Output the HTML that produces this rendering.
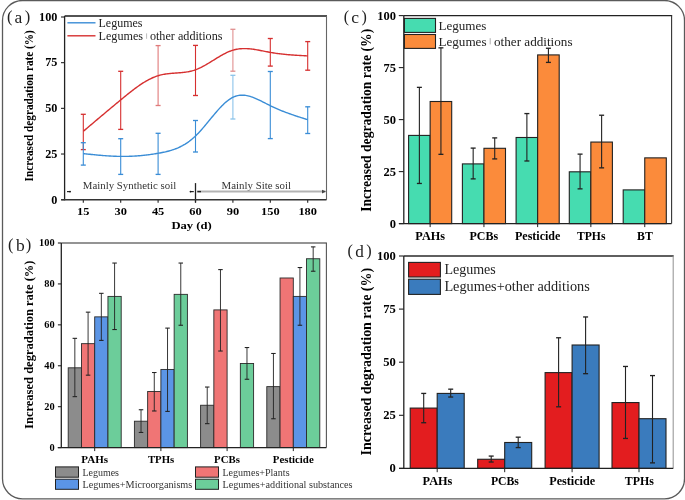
<!DOCTYPE html>
<html><head><meta charset="utf-8"><style>
html,body{margin:0;padding:0;background:#fff;}
svg{display:block;filter:blur(0.3px);}
text{font-family:"Liberation Serif",serif;}
</style></head><body>
<svg width="685" height="500" viewBox="0 0 685 500">
<rect width="685" height="500" fill="#fff"/>
<rect x="2.5" y="0.5" width="682" height="498.3" rx="20" ry="20" fill="none" stroke="#5a5a5a" stroke-width="1.3"/>
<text x="7.07" y="21.9" font-size="16.5" fill="#222">(</text>
<text x="24.63" y="21.9" font-size="16.5" fill="#222">)</text>
<text x="14.38" y="23" font-size="17.5" fill="#222">a</text>
<line x1="61" y1="199.7" x2="64.6" y2="199.7" stroke="#222" stroke-width="1.1"/>
<text x="57.4" y="203.5" font-size="12.2" font-weight="bold" text-anchor="end" textLength="6.1" lengthAdjust="spacingAndGlyphs">0</text>
<line x1="61" y1="154.02" x2="64.6" y2="154.02" stroke="#222" stroke-width="1.1"/>
<text x="57.4" y="157.82" font-size="12.2" font-weight="bold" text-anchor="end" textLength="12.2" lengthAdjust="spacingAndGlyphs">25</text>
<line x1="61" y1="108.35" x2="64.6" y2="108.35" stroke="#222" stroke-width="1.1"/>
<text x="57.4" y="112.15" font-size="12.2" font-weight="bold" text-anchor="end" textLength="12.2" lengthAdjust="spacingAndGlyphs">50</text>
<line x1="61" y1="62.67" x2="64.6" y2="62.67" stroke="#222" stroke-width="1.1"/>
<text x="57.4" y="66.47" font-size="12.2" font-weight="bold" text-anchor="end" textLength="12.2" lengthAdjust="spacingAndGlyphs">75</text>
<line x1="61" y1="17" x2="64.6" y2="17" stroke="#222" stroke-width="1.1"/>
<text x="57.4" y="20.8" font-size="12.2" font-weight="bold" text-anchor="end" textLength="18.3" lengthAdjust="spacingAndGlyphs">100</text>
<line x1="83.3" y1="199.7" x2="83.3" y2="202.7" stroke="#222" stroke-width="1.1"/>
<text x="83.3" y="214.7" font-size="11.4" font-weight="bold" text-anchor="middle" textLength="12.4" lengthAdjust="spacingAndGlyphs">15</text>
<line x1="120.7" y1="199.7" x2="120.7" y2="202.7" stroke="#222" stroke-width="1.1"/>
<text x="120.7" y="214.7" font-size="11.4" font-weight="bold" text-anchor="middle" textLength="12.4" lengthAdjust="spacingAndGlyphs">30</text>
<line x1="158.1" y1="199.7" x2="158.1" y2="202.7" stroke="#222" stroke-width="1.1"/>
<text x="158.1" y="214.7" font-size="11.4" font-weight="bold" text-anchor="middle" textLength="12.4" lengthAdjust="spacingAndGlyphs">45</text>
<line x1="195.5" y1="199.7" x2="195.5" y2="202.7" stroke="#222" stroke-width="1.1"/>
<text x="195.5" y="214.7" font-size="11.4" font-weight="bold" text-anchor="middle" textLength="12.4" lengthAdjust="spacingAndGlyphs">60</text>
<line x1="232.9" y1="199.7" x2="232.9" y2="202.7" stroke="#222" stroke-width="1.1"/>
<text x="232.9" y="214.7" font-size="11.4" font-weight="bold" text-anchor="middle" textLength="12.4" lengthAdjust="spacingAndGlyphs">90</text>
<line x1="270.3" y1="199.7" x2="270.3" y2="202.7" stroke="#222" stroke-width="1.1"/>
<text x="270.3" y="214.7" font-size="11.4" font-weight="bold" text-anchor="middle" textLength="18.6" lengthAdjust="spacingAndGlyphs">150</text>
<line x1="307.7" y1="199.7" x2="307.7" y2="202.7" stroke="#222" stroke-width="1.1"/>
<text x="307.7" y="214.7" font-size="11.4" font-weight="bold" text-anchor="middle" textLength="18.6" lengthAdjust="spacingAndGlyphs">180</text>
<text x="191.6" y="229.3" font-size="11.2" font-weight="bold" text-anchor="middle" textLength="40.4" lengthAdjust="spacingAndGlyphs">Day (d)</text>
<text x="0" y="0" font-size="12.4" font-weight="bold" text-anchor="middle" textLength="151.2" lengthAdjust="spacingAndGlyphs" transform="translate(32.8 105.8) rotate(-90)">Increased degradation rate (%)</text>
<text x="82.8" y="188.7" font-size="9.6" textLength="93.4" lengthAdjust="spacingAndGlyphs" fill="#333">Mainly Synthetic soil</text>
<text x="221.6" y="189" font-size="9.6" textLength="69.4" lengthAdjust="spacingAndGlyphs" fill="#333">Mainly Site soil</text>
<line x1="197" y1="191.5" x2="325.5" y2="191.5" stroke="#b3b3b3" stroke-width="1.8"/>
<line x1="67" y1="191.6" x2="70.5" y2="191.6" stroke="#222" stroke-width="1.2"/>
<circle cx="70" cy="191.6" r="0.9" fill="#111"/>
<line x1="190" y1="191.6" x2="193.8" y2="191.6" stroke="#222" stroke-width="1.2"/>
<circle cx="190.5" cy="191.6" r="0.9" fill="#111"/>
<line x1="197.4" y1="191.6" x2="201" y2="191.6" stroke="#222" stroke-width="1.4"/>
<line x1="195.5" y1="183.1" x2="195.5" y2="202.6" stroke="#222" stroke-width="1.3"/>
<polygon points="322,189.8 326,191.6 322,193.4" fill="#444"/>
<line x1="83.3" y1="114.3" x2="83.3" y2="149.6" stroke="#d63030" stroke-width="1.1"/>
<line x1="80.8" y1="114.3" x2="85.8" y2="114.3" stroke="#d63030" stroke-width="1.32"/>
<line x1="80.8" y1="149.6" x2="85.8" y2="149.6" stroke="#d63030" stroke-width="1.32"/>
<line x1="120.7" y1="71.3" x2="120.7" y2="129.4" stroke="#d63030" stroke-width="1.1"/>
<line x1="118.2" y1="71.3" x2="123.2" y2="71.3" stroke="#d63030" stroke-width="1.32"/>
<line x1="118.2" y1="129.4" x2="123.2" y2="129.4" stroke="#d63030" stroke-width="1.32"/>
<line x1="158.1" y1="45.6" x2="158.1" y2="105.5" stroke="#e07a7a" stroke-width="1.1"/>
<line x1="155.6" y1="45.6" x2="160.6" y2="45.6" stroke="#e07a7a" stroke-width="1.32"/>
<line x1="155.6" y1="105.5" x2="160.6" y2="105.5" stroke="#e07a7a" stroke-width="1.32"/>
<line x1="195.5" y1="45.4" x2="195.5" y2="95.5" stroke="#d63030" stroke-width="1.1"/>
<line x1="193" y1="45.4" x2="198" y2="45.4" stroke="#d63030" stroke-width="1.32"/>
<line x1="193" y1="95.5" x2="198" y2="95.5" stroke="#d63030" stroke-width="1.32"/>
<line x1="232.9" y1="29.3" x2="232.9" y2="71.2" stroke="#e09090" stroke-width="1.1"/>
<line x1="230.4" y1="29.3" x2="235.4" y2="29.3" stroke="#e09090" stroke-width="1.32"/>
<line x1="230.4" y1="71.2" x2="235.4" y2="71.2" stroke="#e09090" stroke-width="1.32"/>
<line x1="270.3" y1="38.5" x2="270.3" y2="66.1" stroke="#d63030" stroke-width="1.1"/>
<line x1="267.8" y1="38.5" x2="272.8" y2="38.5" stroke="#d63030" stroke-width="1.32"/>
<line x1="267.8" y1="66.1" x2="272.8" y2="66.1" stroke="#d63030" stroke-width="1.32"/>
<line x1="307.7" y1="41.6" x2="307.7" y2="70.2" stroke="#d63030" stroke-width="1.1"/>
<line x1="305.2" y1="41.6" x2="310.2" y2="41.6" stroke="#d63030" stroke-width="1.32"/>
<line x1="305.2" y1="70.2" x2="310.2" y2="70.2" stroke="#d63030" stroke-width="1.32"/>
<line x1="83.3" y1="142.7" x2="83.3" y2="165.1" stroke="#3a8dd6" stroke-width="1.1"/>
<line x1="80.8" y1="142.7" x2="85.8" y2="142.7" stroke="#3a8dd6" stroke-width="1.32"/>
<line x1="80.8" y1="165.1" x2="85.8" y2="165.1" stroke="#3a8dd6" stroke-width="1.32"/>
<line x1="120.7" y1="138.7" x2="120.7" y2="174.4" stroke="#3a8dd6" stroke-width="1.1"/>
<line x1="118.2" y1="138.7" x2="123.2" y2="138.7" stroke="#3a8dd6" stroke-width="1.32"/>
<line x1="118.2" y1="174.4" x2="123.2" y2="174.4" stroke="#3a8dd6" stroke-width="1.32"/>
<line x1="158.1" y1="133.3" x2="158.1" y2="174.4" stroke="#3a8dd6" stroke-width="1.1"/>
<line x1="155.6" y1="133.3" x2="160.6" y2="133.3" stroke="#3a8dd6" stroke-width="1.32"/>
<line x1="155.6" y1="174.4" x2="160.6" y2="174.4" stroke="#3a8dd6" stroke-width="1.32"/>
<line x1="195.5" y1="120.5" x2="195.5" y2="152" stroke="#3a8dd6" stroke-width="1.1"/>
<line x1="193" y1="120.5" x2="198" y2="120.5" stroke="#3a8dd6" stroke-width="1.32"/>
<line x1="193" y1="152" x2="198" y2="152" stroke="#3a8dd6" stroke-width="1.32"/>
<line x1="232.9" y1="75.3" x2="232.9" y2="119" stroke="#8cc4ea" stroke-width="1.1"/>
<line x1="230.4" y1="75.3" x2="235.4" y2="75.3" stroke="#8cc4ea" stroke-width="1.32"/>
<line x1="230.4" y1="119" x2="235.4" y2="119" stroke="#8cc4ea" stroke-width="1.32"/>
<line x1="270.3" y1="71.5" x2="270.3" y2="138.6" stroke="#3a8dd6" stroke-width="1.1"/>
<line x1="267.8" y1="71.5" x2="272.8" y2="71.5" stroke="#3a8dd6" stroke-width="1.32"/>
<line x1="267.8" y1="138.6" x2="272.8" y2="138.6" stroke="#3a8dd6" stroke-width="1.32"/>
<line x1="307.7" y1="106.8" x2="307.7" y2="133.5" stroke="#3a8dd6" stroke-width="1.1"/>
<line x1="305.2" y1="106.8" x2="310.2" y2="106.8" stroke="#3a8dd6" stroke-width="1.32"/>
<line x1="305.2" y1="133.5" x2="310.2" y2="133.5" stroke="#3a8dd6" stroke-width="1.32"/>
<path d="M83.3 131.3 L84.43 130.35 L85.56 129.39 L86.68 128.44 L87.81 127.48 L88.94 126.53 L90.07 125.58 L91.19 124.62 L92.32 123.67 L93.45 122.72 L94.58 121.77 L95.7 120.81 L96.83 119.86 L97.96 118.91 L99.09 117.96 L100.21 117.01 L101.34 116.06 L102.47 115.11 L103.6 114.17 L104.73 113.22 L105.85 112.27 L106.98 111.33 L108.11 110.38 L109.24 109.44 L110.36 108.5 L111.49 107.55 L112.62 106.61 L113.75 105.67 L114.87 104.73 L116 103.79 L117.13 102.86 L118.26 101.92 L119.38 100.99 L120.51 100.06 L121.64 99.12 L122.77 98.19 L123.89 97.27 L125.02 96.35 L126.15 95.43 L127.28 94.52 L128.41 93.61 L129.53 92.72 L130.66 91.83 L131.79 90.95 L132.92 90.09 L134.04 89.23 L135.17 88.39 L136.3 87.57 L137.43 86.75 L138.55 85.96 L139.68 85.18 L140.81 84.42 L141.94 83.68 L143.06 82.95 L144.19 82.25 L145.32 81.57 L146.45 80.91 L147.58 80.28 L148.7 79.67 L149.83 79.09 L150.96 78.53 L152.09 78.01 L153.21 77.51 L154.34 77.04 L155.47 76.6 L156.6 76.19 L157.72 75.82 L158.85 75.48 L159.98 75.17 L161.11 74.89 L162.23 74.64 L163.36 74.42 L164.49 74.22 L165.62 74.04 L166.75 73.88 L167.87 73.74 L169 73.61 L170.13 73.5 L171.26 73.4 L172.38 73.31 L173.51 73.22 L174.64 73.14 L175.77 73.06 L176.89 72.98 L178.02 72.9 L179.15 72.82 L180.28 72.73 L181.4 72.63 L182.53 72.52 L183.66 72.4 L184.79 72.26 L185.92 72.1 L187.04 71.93 L188.17 71.74 L189.3 71.52 L190.43 71.27 L191.55 71 L192.68 70.7 L193.81 70.37 L194.94 70 L196.06 69.59 L197.19 69.15 L198.32 68.68 L199.45 68.17 L200.57 67.64 L201.7 67.07 L202.83 66.49 L203.96 65.88 L205.08 65.25 L206.21 64.61 L207.34 63.94 L208.47 63.27 L209.6 62.59 L210.72 61.9 L211.85 61.2 L212.98 60.5 L214.11 59.8 L215.23 59.1 L216.36 58.41 L217.49 57.72 L218.62 57.04 L219.74 56.37 L220.87 55.72 L222 55.08 L223.13 54.46 L224.25 53.86 L225.38 53.28 L226.51 52.73 L227.64 52.21 L228.77 51.71 L229.89 51.25 L231.02 50.83 L232.15 50.44 L233.28 50.09 L234.4 49.78 L235.53 49.51 L236.66 49.28 L237.79 49.08 L238.91 48.92 L240.04 48.8 L241.17 48.7 L242.3 48.63 L243.42 48.6 L244.55 48.59 L245.68 48.6 L246.81 48.64 L247.94 48.71 L249.06 48.79 L250.19 48.9 L251.32 49.02 L252.45 49.16 L253.57 49.31 L254.7 49.48 L255.83 49.66 L256.96 49.85 L258.08 50.05 L259.21 50.26 L260.34 50.47 L261.47 50.69 L262.59 50.91 L263.72 51.14 L264.85 51.36 L265.98 51.59 L267.11 51.81 L268.23 52.02 L269.36 52.23 L270.49 52.43 L271.62 52.63 L272.74 52.81 L273.87 52.99 L275 53.16 L276.13 53.32 L277.25 53.48 L278.38 53.63 L279.51 53.77 L280.64 53.91 L281.76 54.04 L282.89 54.16 L284.02 54.28 L285.15 54.39 L286.27 54.5 L287.4 54.6 L288.53 54.7 L289.66 54.79 L290.79 54.88 L291.91 54.97 L293.04 55.05 L294.17 55.13 L295.3 55.2 L296.42 55.27 L297.55 55.34 L298.68 55.41 L299.81 55.48 L300.93 55.54 L302.06 55.6 L303.19 55.66 L304.32 55.72 L305.44 55.78 L306.57 55.84 L307.7 55.9" fill="none" stroke="#d63030" stroke-width="1.4"/>
<path d="M83.3 153.6 L84.43 153.72 L85.56 153.84 L86.68 153.96 L87.81 154.08 L88.94 154.2 L90.07 154.32 L91.19 154.43 L92.32 154.55 L93.45 154.66 L94.58 154.78 L95.7 154.89 L96.83 154.99 L97.96 155.1 L99.09 155.2 L100.21 155.3 L101.34 155.4 L102.47 155.49 L103.6 155.58 L104.73 155.67 L105.85 155.75 L106.98 155.83 L108.11 155.91 L109.24 155.98 L110.36 156.04 L111.49 156.1 L112.62 156.16 L113.75 156.21 L114.87 156.26 L116 156.3 L117.13 156.33 L118.26 156.36 L119.38 156.38 L120.51 156.4 L121.64 156.41 L122.77 156.41 L123.89 156.41 L125.02 156.4 L126.15 156.38 L127.28 156.36 L128.41 156.33 L129.53 156.29 L130.66 156.25 L131.79 156.2 L132.92 156.14 L134.04 156.08 L135.17 156.01 L136.3 155.94 L137.43 155.86 L138.55 155.77 L139.68 155.68 L140.81 155.58 L141.94 155.48 L143.06 155.36 L144.19 155.25 L145.32 155.12 L146.45 154.99 L147.58 154.86 L148.7 154.72 L149.83 154.57 L150.96 154.41 L152.09 154.25 L153.21 154.09 L154.34 153.92 L155.47 153.74 L156.6 153.55 L157.72 153.36 L158.85 153.17 L159.98 152.97 L161.11 152.76 L162.23 152.54 L163.36 152.31 L164.49 152.07 L165.62 151.81 L166.75 151.54 L167.87 151.26 L169 150.96 L170.13 150.64 L171.26 150.3 L172.38 149.94 L173.51 149.56 L174.64 149.16 L175.77 148.73 L176.89 148.28 L178.02 147.8 L179.15 147.29 L180.28 146.75 L181.4 146.19 L182.53 145.59 L183.66 144.95 L184.79 144.29 L185.92 143.58 L187.04 142.85 L188.17 142.07 L189.3 141.25 L190.43 140.39 L191.55 139.49 L192.68 138.55 L193.81 137.57 L194.94 136.53 L196.06 135.45 L197.19 134.33 L198.32 133.16 L199.45 131.96 L200.57 130.72 L201.7 129.45 L202.83 128.16 L203.96 126.84 L205.08 125.5 L206.21 124.15 L207.34 122.79 L208.47 121.42 L209.6 120.04 L210.72 118.67 L211.85 117.3 L212.98 115.94 L214.11 114.59 L215.23 113.25 L216.36 111.94 L217.49 110.64 L218.62 109.38 L219.74 108.14 L220.87 106.94 L222 105.78 L223.13 104.66 L224.25 103.59 L225.38 102.57 L226.51 101.6 L227.64 100.68 L228.77 99.83 L229.89 99.05 L231.02 98.33 L232.15 97.69 L233.28 97.12 L234.4 96.63 L235.53 96.22 L236.66 95.87 L237.79 95.6 L238.91 95.4 L240.04 95.26 L241.17 95.18 L242.3 95.16 L243.42 95.2 L244.55 95.29 L245.68 95.43 L246.81 95.62 L247.94 95.85 L249.06 96.13 L250.19 96.45 L251.32 96.8 L252.45 97.19 L253.57 97.61 L254.7 98.05 L255.83 98.53 L256.96 99.03 L258.08 99.54 L259.21 100.08 L260.34 100.63 L261.47 101.19 L262.59 101.76 L263.72 102.34 L264.85 102.92 L265.98 103.5 L267.11 104.09 L268.23 104.66 L269.36 105.23 L270.49 105.79 L271.62 106.34 L272.74 106.88 L273.87 107.4 L275 107.92 L276.13 108.42 L277.25 108.91 L278.38 109.4 L279.51 109.87 L280.64 110.34 L281.76 110.79 L282.89 111.24 L284.02 111.68 L285.15 112.11 L286.27 112.54 L287.4 112.95 L288.53 113.37 L289.66 113.77 L290.79 114.17 L291.91 114.56 L293.04 114.95 L294.17 115.34 L295.3 115.71 L296.42 116.09 L297.55 116.46 L298.68 116.83 L299.81 117.19 L300.93 117.56 L302.06 117.92 L303.19 118.28 L304.32 118.63 L305.44 118.99 L306.57 119.34 L307.7 119.7" fill="none" stroke="#3a8dd6" stroke-width="1.4"/>
<line x1="64.6" y1="16" x2="327" y2="16" stroke="#1a1a1a" stroke-width="1.3"/>
<line x1="326.5" y1="16" x2="326.5" y2="199.7" stroke="#666" stroke-width="1.1"/>
<line x1="64.6" y1="16" x2="64.6" y2="200.3" stroke="#222" stroke-width="1.3"/>
<line x1="61.2" y1="199.7" x2="326.5" y2="199.7" stroke="#333" stroke-width="1.4"/>
<line x1="67.4" y1="22.8" x2="95.5" y2="22.8" stroke="#3a8dd6" stroke-width="1.4"/>
<line x1="67.4" y1="35.8" x2="95.5" y2="35.8" stroke="#d63030" stroke-width="1.4"/>
<text x="98.5" y="26.9" font-size="12.4" textLength="44" lengthAdjust="spacingAndGlyphs" fill="#222">Legumes</text>
<text x="98.5" y="39.8" font-size="12.4" fill="#222" textLength="124" lengthAdjust="spacingAndGlyphs">Legumes<tspan fill="#fff">+</tspan>other additions</text>
<line x1="146.6" y1="33.4" x2="146.6" y2="38.8" stroke="#aaa" stroke-width="0.8"/>
<text x="7.97" y="249.5" font-size="16.5" fill="#222">(</text>
<text x="25.83" y="249.5" font-size="16.5" fill="#222">)</text>
<text x="15.9" y="250.8" font-size="17.5" fill="#222">b</text>
<line x1="57.9" y1="447.6" x2="61.3" y2="447.6" stroke="#222" stroke-width="1.1"/>
<text x="54.6" y="451" font-size="10.2" font-weight="bold" text-anchor="end" textLength="5.2" lengthAdjust="spacingAndGlyphs">0</text>
<line x1="57.9" y1="406.68" x2="61.3" y2="406.68" stroke="#222" stroke-width="1.1"/>
<text x="54.6" y="410.08" font-size="10.2" font-weight="bold" text-anchor="end" textLength="10.4" lengthAdjust="spacingAndGlyphs">20</text>
<line x1="57.9" y1="365.76" x2="61.3" y2="365.76" stroke="#222" stroke-width="1.1"/>
<text x="54.6" y="369.16" font-size="10.2" font-weight="bold" text-anchor="end" textLength="10.4" lengthAdjust="spacingAndGlyphs">40</text>
<line x1="57.9" y1="324.84" x2="61.3" y2="324.84" stroke="#222" stroke-width="1.1"/>
<text x="54.6" y="328.24" font-size="10.2" font-weight="bold" text-anchor="end" textLength="10.4" lengthAdjust="spacingAndGlyphs">60</text>
<line x1="57.9" y1="283.92" x2="61.3" y2="283.92" stroke="#222" stroke-width="1.1"/>
<text x="54.6" y="287.32" font-size="10.2" font-weight="bold" text-anchor="end" textLength="10.4" lengthAdjust="spacingAndGlyphs">80</text>
<line x1="57.9" y1="243" x2="61.3" y2="243" stroke="#222" stroke-width="1.1"/>
<text x="54.6" y="246.4" font-size="10.2" font-weight="bold" text-anchor="end" textLength="15.6" lengthAdjust="spacingAndGlyphs">100</text>
<text x="0" y="0" font-size="13.2" font-weight="bold" text-anchor="middle" textLength="168.5" lengthAdjust="spacingAndGlyphs" transform="translate(32.9 344.7) rotate(-90)">Increased degradation rate (%)</text>
<rect x="68.2" y="367.81" width="13.25" height="79.79" fill="#8c8c8c" stroke="#2a2a2a" stroke-width="0.9"/>
<rect x="81.45" y="343.66" width="13.25" height="103.94" fill="#f07575" stroke="#2a2a2a" stroke-width="0.9"/>
<rect x="94.7" y="316.86" width="13.25" height="130.74" fill="#5b95e6" stroke="#2a2a2a" stroke-width="0.9"/>
<rect x="107.95" y="296.4" width="13.25" height="151.2" fill="#6ccd9a" stroke="#2a2a2a" stroke-width="0.9"/>
<line x1="74.83" y1="338.34" x2="74.83" y2="396.65" stroke="#222" stroke-width="0.9"/>
<line x1="72.58" y1="338.34" x2="77.08" y2="338.34" stroke="#222" stroke-width="1.08"/>
<line x1="72.58" y1="396.65" x2="77.08" y2="396.65" stroke="#222" stroke-width="1.08"/>
<line x1="88.08" y1="312.15" x2="88.08" y2="375.17" stroke="#222" stroke-width="0.9"/>
<line x1="85.83" y1="312.15" x2="90.33" y2="312.15" stroke="#222" stroke-width="1.08"/>
<line x1="85.83" y1="375.17" x2="90.33" y2="375.17" stroke="#222" stroke-width="1.08"/>
<line x1="101.33" y1="293.33" x2="101.33" y2="340.39" stroke="#222" stroke-width="0.9"/>
<line x1="99.08" y1="293.33" x2="103.58" y2="293.33" stroke="#222" stroke-width="1.08"/>
<line x1="99.08" y1="340.39" x2="103.58" y2="340.39" stroke="#222" stroke-width="1.08"/>
<line x1="114.58" y1="263.05" x2="114.58" y2="329.55" stroke="#222" stroke-width="0.9"/>
<line x1="112.33" y1="263.05" x2="116.83" y2="263.05" stroke="#222" stroke-width="1.08"/>
<line x1="112.33" y1="329.55" x2="116.83" y2="329.55" stroke="#222" stroke-width="1.08"/>
<line x1="94.7" y1="447.6" x2="94.7" y2="451.1" stroke="#222" stroke-width="1"/>
<rect x="134.4" y="421.21" width="13.25" height="26.39" fill="#8c8c8c" stroke="#2a2a2a" stroke-width="0.9"/>
<rect x="147.65" y="391.54" width="13.25" height="56.06" fill="#f07575" stroke="#2a2a2a" stroke-width="0.9"/>
<rect x="160.9" y="369.44" width="13.25" height="78.16" fill="#5b95e6" stroke="#2a2a2a" stroke-width="0.9"/>
<rect x="174.15" y="294.35" width="13.25" height="153.25" fill="#6ccd9a" stroke="#2a2a2a" stroke-width="0.9"/>
<line x1="141.03" y1="409.75" x2="141.03" y2="432.46" stroke="#222" stroke-width="0.9"/>
<line x1="138.78" y1="409.75" x2="143.28" y2="409.75" stroke="#222" stroke-width="1.08"/>
<line x1="138.78" y1="432.46" x2="143.28" y2="432.46" stroke="#222" stroke-width="1.08"/>
<line x1="154.28" y1="372.51" x2="154.28" y2="410.98" stroke="#222" stroke-width="0.9"/>
<line x1="152.03" y1="372.51" x2="156.53" y2="372.51" stroke="#222" stroke-width="1.08"/>
<line x1="152.03" y1="410.98" x2="156.53" y2="410.98" stroke="#222" stroke-width="1.08"/>
<line x1="167.53" y1="328.11" x2="167.53" y2="411.39" stroke="#222" stroke-width="0.9"/>
<line x1="165.28" y1="328.11" x2="169.78" y2="328.11" stroke="#222" stroke-width="1.08"/>
<line x1="165.28" y1="411.39" x2="169.78" y2="411.39" stroke="#222" stroke-width="1.08"/>
<line x1="180.78" y1="263.05" x2="180.78" y2="325.25" stroke="#222" stroke-width="0.9"/>
<line x1="178.53" y1="263.05" x2="183.03" y2="263.05" stroke="#222" stroke-width="1.08"/>
<line x1="178.53" y1="325.25" x2="183.03" y2="325.25" stroke="#222" stroke-width="1.08"/>
<line x1="160.9" y1="447.6" x2="160.9" y2="451.1" stroke="#222" stroke-width="1"/>
<rect x="200.6" y="405.25" width="13.25" height="42.35" fill="#8c8c8c" stroke="#2a2a2a" stroke-width="0.9"/>
<rect x="213.85" y="309.9" width="13.25" height="137.7" fill="#f07575" stroke="#2a2a2a" stroke-width="0.9"/>
<rect x="240.35" y="363.51" width="13.25" height="84.09" fill="#6ccd9a" stroke="#2a2a2a" stroke-width="0.9"/>
<line x1="207.22" y1="387.04" x2="207.22" y2="423.66" stroke="#222" stroke-width="0.9"/>
<line x1="204.97" y1="387.04" x2="209.47" y2="387.04" stroke="#222" stroke-width="1.08"/>
<line x1="204.97" y1="423.66" x2="209.47" y2="423.66" stroke="#222" stroke-width="1.08"/>
<line x1="220.47" y1="269.6" x2="220.47" y2="351.03" stroke="#222" stroke-width="0.9"/>
<line x1="218.22" y1="269.6" x2="222.72" y2="269.6" stroke="#222" stroke-width="1.08"/>
<line x1="218.22" y1="351.03" x2="222.72" y2="351.03" stroke="#222" stroke-width="1.08"/>
<line x1="246.97" y1="347.55" x2="246.97" y2="379.26" stroke="#222" stroke-width="0.9"/>
<line x1="244.72" y1="347.55" x2="249.22" y2="347.55" stroke="#222" stroke-width="1.08"/>
<line x1="244.72" y1="379.26" x2="249.22" y2="379.26" stroke="#222" stroke-width="1.08"/>
<line x1="227.1" y1="447.6" x2="227.1" y2="451.1" stroke="#222" stroke-width="1"/>
<rect x="266.8" y="386.63" width="13.25" height="60.97" fill="#8c8c8c" stroke="#2a2a2a" stroke-width="0.9"/>
<rect x="280.05" y="277.99" width="13.25" height="169.61" fill="#f07575" stroke="#2a2a2a" stroke-width="0.9"/>
<rect x="293.3" y="296.4" width="13.25" height="151.2" fill="#5b95e6" stroke="#2a2a2a" stroke-width="0.9"/>
<rect x="306.55" y="258.75" width="13.25" height="188.85" fill="#6ccd9a" stroke="#2a2a2a" stroke-width="0.9"/>
<line x1="273.43" y1="353.48" x2="273.43" y2="418.75" stroke="#222" stroke-width="0.9"/>
<line x1="271.18" y1="353.48" x2="275.68" y2="353.48" stroke="#222" stroke-width="1.08"/>
<line x1="271.18" y1="418.75" x2="275.68" y2="418.75" stroke="#222" stroke-width="1.08"/>
<line x1="299.93" y1="267.55" x2="299.93" y2="325.25" stroke="#222" stroke-width="0.9"/>
<line x1="297.68" y1="267.55" x2="302.18" y2="267.55" stroke="#222" stroke-width="1.08"/>
<line x1="297.68" y1="325.25" x2="302.18" y2="325.25" stroke="#222" stroke-width="1.08"/>
<line x1="313.18" y1="246.89" x2="313.18" y2="271.23" stroke="#222" stroke-width="0.9"/>
<line x1="310.93" y1="246.89" x2="315.43" y2="246.89" stroke="#222" stroke-width="1.08"/>
<line x1="310.93" y1="271.23" x2="315.43" y2="271.23" stroke="#222" stroke-width="1.08"/>
<line x1="293.3" y1="447.6" x2="293.3" y2="451.1" stroke="#222" stroke-width="1"/>
<line x1="61.3" y1="243" x2="326.9" y2="243" stroke="#2a2a2a" stroke-width="1.2"/>
<line x1="326.4" y1="243" x2="326.4" y2="447.6" stroke="#555" stroke-width="1.1"/>
<line x1="61.3" y1="243" x2="61.3" y2="447.6" stroke="#222" stroke-width="1.3"/>
<line x1="57.8" y1="447.6" x2="326.4" y2="447.6" stroke="#222" stroke-width="1.4"/>
<text x="94.7" y="462.6" font-size="11" font-weight="bold" text-anchor="middle" textLength="26.7" lengthAdjust="spacingAndGlyphs">PAHs</text>
<text x="161.05" y="462.6" font-size="11" font-weight="bold" text-anchor="middle" textLength="26.3" lengthAdjust="spacingAndGlyphs">TPHs</text>
<text x="227" y="462.6" font-size="11" font-weight="bold" text-anchor="middle" textLength="25.8" lengthAdjust="spacingAndGlyphs">PCBs</text>
<text x="293.25" y="462.6" font-size="11" font-weight="bold" text-anchor="middle" textLength="40.9" lengthAdjust="spacingAndGlyphs">Pesticide</text>
<rect x="55.5" y="466.9" width="23" height="10.3" fill="#8c8c8c" stroke="#222" stroke-width="1"/>
<rect x="55.5" y="479.2" width="23" height="10.1" fill="#5b95e6" stroke="#222" stroke-width="1"/>
<rect x="195.5" y="466.9" width="23" height="10.3" fill="#f07575" stroke="#222" stroke-width="1"/>
<rect x="195.5" y="479.2" width="23" height="10.1" fill="#6ccd9a" stroke="#222" stroke-width="1"/>
<text x="82.4" y="475.7" font-size="10.2" textLength="36.6" lengthAdjust="spacingAndGlyphs" fill="#333">Legumes</text>
<text x="82.4" y="487.7" font-size="10.2" textLength="109.9" lengthAdjust="spacingAndGlyphs" fill="#333">Legumes+Microorganisms</text>
<text x="222.4" y="475.7" font-size="10.2" textLength="67.2" lengthAdjust="spacingAndGlyphs" fill="#333">Legumes+Plants</text>
<text x="222.4" y="487.7" font-size="10.2" textLength="130.2" lengthAdjust="spacingAndGlyphs" fill="#333">Legumes+additional substances</text>
<text x="343.8" y="21.5" font-size="16" fill="#222">(</text>
<text x="361.47" y="21.5" font-size="16" fill="#222">)</text>
<text x="351.33" y="22.8" font-size="17.5" fill="#222">c</text>
<line x1="398.8" y1="223.6" x2="403.8" y2="223.6" stroke="#222" stroke-width="1.1"/>
<text x="395.9" y="227.5" font-size="12" font-weight="bold" text-anchor="end" textLength="6.25" lengthAdjust="spacingAndGlyphs">0</text>
<line x1="398.8" y1="171.6" x2="403.8" y2="171.6" stroke="#222" stroke-width="1.1"/>
<text x="395.9" y="175.5" font-size="12" font-weight="bold" text-anchor="end" textLength="12.5" lengthAdjust="spacingAndGlyphs">25</text>
<line x1="398.8" y1="119.6" x2="403.8" y2="119.6" stroke="#222" stroke-width="1.1"/>
<text x="395.9" y="123.5" font-size="12" font-weight="bold" text-anchor="end" textLength="12.5" lengthAdjust="spacingAndGlyphs">50</text>
<line x1="398.8" y1="67.6" x2="403.8" y2="67.6" stroke="#222" stroke-width="1.1"/>
<text x="395.9" y="71.5" font-size="12" font-weight="bold" text-anchor="end" textLength="12.5" lengthAdjust="spacingAndGlyphs">75</text>
<line x1="398.8" y1="15.6" x2="403.8" y2="15.6" stroke="#222" stroke-width="1.1"/>
<text x="395.9" y="19.5" font-size="12" font-weight="bold" text-anchor="end" textLength="18.75" lengthAdjust="spacingAndGlyphs">100</text>
<text x="0" y="0" font-size="14.6" font-weight="bold" text-anchor="middle" textLength="183" lengthAdjust="spacingAndGlyphs" transform="translate(371.2 120.3) rotate(-90)">Increased degradation rate (%)</text>
<rect x="408.6" y="135.41" width="21.55" height="88.19" fill="#46dcb0" stroke="#222" stroke-width="1.1"/>
<rect x="430.15" y="101.5" width="21.55" height="122.1" fill="#fb8b3b" stroke="#222" stroke-width="1.1"/>
<line x1="430.15" y1="223.6" x2="430.15" y2="227.1" stroke="#222" stroke-width="1"/>
<rect x="462.4" y="163.9" width="21.55" height="59.7" fill="#46dcb0" stroke="#222" stroke-width="1.1"/>
<rect x="483.95" y="148.3" width="21.55" height="75.3" fill="#fb8b3b" stroke="#222" stroke-width="1.1"/>
<line x1="483.95" y1="223.6" x2="483.95" y2="227.1" stroke="#222" stroke-width="1"/>
<rect x="516.1" y="137.49" width="21.55" height="86.11" fill="#46dcb0" stroke="#222" stroke-width="1.1"/>
<rect x="537.65" y="54.91" width="21.55" height="168.69" fill="#fb8b3b" stroke="#222" stroke-width="1.1"/>
<line x1="537.65" y1="223.6" x2="537.65" y2="227.1" stroke="#222" stroke-width="1"/>
<rect x="569.3" y="171.81" width="21.55" height="51.79" fill="#46dcb0" stroke="#222" stroke-width="1.1"/>
<rect x="590.85" y="142.06" width="21.55" height="81.54" fill="#fb8b3b" stroke="#222" stroke-width="1.1"/>
<line x1="590.85" y1="223.6" x2="590.85" y2="227.1" stroke="#222" stroke-width="1"/>
<rect x="623.2" y="189.9" width="21.55" height="33.7" fill="#46dcb0" stroke="#222" stroke-width="1.1"/>
<rect x="644.75" y="157.87" width="21.55" height="65.73" fill="#fb8b3b" stroke="#222" stroke-width="1.1"/>
<line x1="644.75" y1="223.6" x2="644.75" y2="227.1" stroke="#222" stroke-width="1"/>
<rect x="404.4" y="18.4" width="31.1" height="14" fill="#46dcb0" stroke="#222" stroke-width="1.1"/>
<rect x="404.4" y="34.5" width="31.1" height="13.9" fill="#fb8b3b" stroke="#222" stroke-width="1.1"/>
<line x1="419.38" y1="87.36" x2="419.38" y2="183.46" stroke="#222" stroke-width="1.1"/>
<line x1="416.88" y1="87.36" x2="421.88" y2="87.36" stroke="#222" stroke-width="1.32"/>
<line x1="416.88" y1="183.46" x2="421.88" y2="183.46" stroke="#222" stroke-width="1.32"/>
<line x1="440.93" y1="47.84" x2="440.93" y2="154.34" stroke="#222" stroke-width="1.1"/>
<line x1="438.43" y1="47.84" x2="443.43" y2="47.84" stroke="#222" stroke-width="1.32"/>
<line x1="438.43" y1="154.34" x2="443.43" y2="154.34" stroke="#222" stroke-width="1.32"/>
<line x1="473.17" y1="148.1" x2="473.17" y2="178.88" stroke="#222" stroke-width="1.1"/>
<line x1="470.67" y1="148.1" x2="475.67" y2="148.1" stroke="#222" stroke-width="1.32"/>
<line x1="470.67" y1="178.88" x2="475.67" y2="178.88" stroke="#222" stroke-width="1.32"/>
<line x1="494.72" y1="137.9" x2="494.72" y2="158.91" stroke="#222" stroke-width="1.1"/>
<line x1="492.22" y1="137.9" x2="497.22" y2="137.9" stroke="#222" stroke-width="1.32"/>
<line x1="492.22" y1="158.91" x2="497.22" y2="158.91" stroke="#222" stroke-width="1.32"/>
<line x1="526.88" y1="113.57" x2="526.88" y2="160.99" stroke="#222" stroke-width="1.1"/>
<line x1="524.38" y1="113.57" x2="529.38" y2="113.57" stroke="#222" stroke-width="1.32"/>
<line x1="524.38" y1="160.99" x2="529.38" y2="160.99" stroke="#222" stroke-width="1.32"/>
<line x1="548.42" y1="48.26" x2="548.42" y2="62.4" stroke="#222" stroke-width="1.1"/>
<line x1="545.92" y1="48.26" x2="550.92" y2="48.26" stroke="#222" stroke-width="1.32"/>
<line x1="545.92" y1="62.4" x2="550.92" y2="62.4" stroke="#222" stroke-width="1.32"/>
<line x1="580.07" y1="154.13" x2="580.07" y2="188.86" stroke="#222" stroke-width="1.1"/>
<line x1="577.57" y1="154.13" x2="582.57" y2="154.13" stroke="#222" stroke-width="1.32"/>
<line x1="577.57" y1="188.86" x2="582.57" y2="188.86" stroke="#222" stroke-width="1.32"/>
<line x1="601.62" y1="115.23" x2="601.62" y2="167.86" stroke="#222" stroke-width="1.1"/>
<line x1="599.12" y1="115.23" x2="604.12" y2="115.23" stroke="#222" stroke-width="1.32"/>
<line x1="599.12" y1="167.86" x2="604.12" y2="167.86" stroke="#222" stroke-width="1.32"/>
<text x="438.4" y="29.6" font-size="13.1" textLength="48" lengthAdjust="spacingAndGlyphs" fill="#222">Legumes</text>
<text x="438.4" y="45.5" font-size="13.1" fill="#222" textLength="134.1" lengthAdjust="spacingAndGlyphs">Legumes<tspan fill="#fff">+</tspan>other additions</text>
<line x1="490.2" y1="38.2" x2="490.2" y2="44.4" stroke="#999" stroke-width="0.8"/>
<line x1="403.8" y1="15.6" x2="672.15" y2="15.6" stroke="#222" stroke-width="1.3"/>
<line x1="671.6" y1="15.6" x2="671.6" y2="223.6" stroke="#333" stroke-width="1.1"/>
<line x1="403.8" y1="15.6" x2="403.8" y2="223.6" stroke="#222" stroke-width="1.3"/>
<line x1="399" y1="223.6" x2="671.6" y2="223.6" stroke="#222" stroke-width="1.4"/>
<text x="430.2" y="240.2" font-size="11.5" font-weight="bold" text-anchor="middle" textLength="29.7" lengthAdjust="spacingAndGlyphs">PAHs</text>
<text x="483.8" y="240.2" font-size="11.5" font-weight="bold" text-anchor="middle" textLength="28.6" lengthAdjust="spacingAndGlyphs">PCBs</text>
<text x="537.7" y="240.2" font-size="11.5" font-weight="bold" text-anchor="middle" textLength="45.4" lengthAdjust="spacingAndGlyphs">Pesticide</text>
<text x="591.2" y="240.2" font-size="11.5" font-weight="bold" text-anchor="middle" textLength="28.5" lengthAdjust="spacingAndGlyphs">TPHs</text>
<text x="644.9" y="240.2" font-size="11.5" font-weight="bold" text-anchor="middle" textLength="15.7" lengthAdjust="spacingAndGlyphs">BT</text>
<text x="347.4" y="255.8" font-size="16.3" fill="#222">(</text>
<text x="366.2" y="255.8" font-size="16.3" fill="#222">)</text>
<text x="355.3" y="256.6" font-size="17.2" fill="#222">d</text>
<line x1="399" y1="468.4" x2="403.8" y2="468.4" stroke="#222" stroke-width="1.1"/>
<text x="395.9" y="472.3" font-size="12" font-weight="bold" text-anchor="end" textLength="6.3" lengthAdjust="spacingAndGlyphs">0</text>
<line x1="399" y1="415.3" x2="403.8" y2="415.3" stroke="#222" stroke-width="1.1"/>
<text x="395.9" y="419.2" font-size="12" font-weight="bold" text-anchor="end" textLength="12.6" lengthAdjust="spacingAndGlyphs">25</text>
<line x1="399" y1="362.2" x2="403.8" y2="362.2" stroke="#222" stroke-width="1.1"/>
<text x="395.9" y="366.1" font-size="12" font-weight="bold" text-anchor="end" textLength="12.6" lengthAdjust="spacingAndGlyphs">50</text>
<line x1="399" y1="309.1" x2="403.8" y2="309.1" stroke="#222" stroke-width="1.1"/>
<text x="395.9" y="313" font-size="12" font-weight="bold" text-anchor="end" textLength="12.6" lengthAdjust="spacingAndGlyphs">75</text>
<line x1="399" y1="256" x2="403.8" y2="256" stroke="#222" stroke-width="1.1"/>
<text x="395.9" y="259.9" font-size="12" font-weight="bold" text-anchor="end" textLength="18.9" lengthAdjust="spacingAndGlyphs">100</text>
<text x="0" y="0" font-size="14.6" font-weight="bold" text-anchor="middle" textLength="187.5" lengthAdjust="spacingAndGlyphs" transform="translate(371.2 361.7) rotate(-90)">Increased degradation rate (%)</text>
<rect x="410.2" y="408.08" width="27" height="60.32" fill="#e31d1f" stroke="#222" stroke-width="1.1"/>
<rect x="437.2" y="393.42" width="27" height="74.98" fill="#3a7bbd" stroke="#222" stroke-width="1.1"/>
<line x1="437.2" y1="468.4" x2="437.2" y2="472.2" stroke="#222" stroke-width="1"/>
<rect x="477.7" y="459.27" width="27" height="9.13" fill="#e31d1f" stroke="#222" stroke-width="1.1"/>
<rect x="504.7" y="442.49" width="27" height="25.91" fill="#3a7bbd" stroke="#222" stroke-width="1.1"/>
<line x1="504.7" y1="468.4" x2="504.7" y2="472.2" stroke="#222" stroke-width="1"/>
<rect x="545.1" y="372.61" width="27" height="95.79" fill="#e31d1f" stroke="#222" stroke-width="1.1"/>
<rect x="572.1" y="345" width="27" height="123.4" fill="#3a7bbd" stroke="#222" stroke-width="1.1"/>
<line x1="572.1" y1="468.4" x2="572.1" y2="472.2" stroke="#222" stroke-width="1"/>
<rect x="612" y="402.56" width="27" height="65.84" fill="#e31d1f" stroke="#222" stroke-width="1.1"/>
<rect x="639" y="418.7" width="27" height="49.7" fill="#3a7bbd" stroke="#222" stroke-width="1.1"/>
<line x1="639" y1="468.4" x2="639" y2="472.2" stroke="#222" stroke-width="1"/>
<line x1="423.7" y1="393.42" x2="423.7" y2="422.73" stroke="#222" stroke-width="1.1"/>
<line x1="421.2" y1="393.42" x2="426.2" y2="393.42" stroke="#222" stroke-width="1.32"/>
<line x1="421.2" y1="422.73" x2="426.2" y2="422.73" stroke="#222" stroke-width="1.32"/>
<line x1="450.7" y1="389.17" x2="450.7" y2="397.03" stroke="#222" stroke-width="1.1"/>
<line x1="448.2" y1="389.17" x2="453.2" y2="389.17" stroke="#222" stroke-width="1.32"/>
<line x1="448.2" y1="397.03" x2="453.2" y2="397.03" stroke="#222" stroke-width="1.32"/>
<line x1="491.2" y1="456.08" x2="491.2" y2="462.03" stroke="#222" stroke-width="1.1"/>
<line x1="488.7" y1="456.08" x2="493.7" y2="456.08" stroke="#222" stroke-width="1.32"/>
<line x1="488.7" y1="462.03" x2="493.7" y2="462.03" stroke="#222" stroke-width="1.32"/>
<line x1="518.2" y1="437.18" x2="518.2" y2="447.58" stroke="#222" stroke-width="1.1"/>
<line x1="515.7" y1="437.18" x2="520.7" y2="437.18" stroke="#222" stroke-width="1.32"/>
<line x1="515.7" y1="447.58" x2="520.7" y2="447.58" stroke="#222" stroke-width="1.32"/>
<line x1="558.6" y1="337.77" x2="558.6" y2="406.8" stroke="#222" stroke-width="1.1"/>
<line x1="556.1" y1="337.77" x2="561.1" y2="337.77" stroke="#222" stroke-width="1.32"/>
<line x1="556.1" y1="406.8" x2="561.1" y2="406.8" stroke="#222" stroke-width="1.32"/>
<line x1="585.6" y1="316.96" x2="585.6" y2="373.67" stroke="#222" stroke-width="1.1"/>
<line x1="583.1" y1="316.96" x2="588.1" y2="316.96" stroke="#222" stroke-width="1.32"/>
<line x1="583.1" y1="373.67" x2="588.1" y2="373.67" stroke="#222" stroke-width="1.32"/>
<line x1="625.5" y1="366.45" x2="625.5" y2="438.45" stroke="#222" stroke-width="1.1"/>
<line x1="623" y1="366.45" x2="628" y2="366.45" stroke="#222" stroke-width="1.32"/>
<line x1="623" y1="438.45" x2="628" y2="438.45" stroke="#222" stroke-width="1.32"/>
<line x1="652.5" y1="375.58" x2="652.5" y2="462.88" stroke="#222" stroke-width="1.1"/>
<line x1="650" y1="375.58" x2="655" y2="375.58" stroke="#222" stroke-width="1.32"/>
<line x1="650" y1="462.88" x2="655" y2="462.88" stroke="#222" stroke-width="1.32"/>
<rect x="408.6" y="262.4" width="31.8" height="14.6" fill="#e31d1f" stroke="#222" stroke-width="1.1"/>
<rect x="408.6" y="279.2" width="31.8" height="15.2" fill="#3a7bbd" stroke="#222" stroke-width="1.1"/>
<text x="444.4" y="274" font-size="14" textLength="51.4" lengthAdjust="spacingAndGlyphs" fill="#222">Legumes</text>
<text x="444.4" y="291.1" font-size="14" textLength="145.4" lengthAdjust="spacingAndGlyphs" fill="#222">Legumes+other additions</text>
<line x1="403.8" y1="256" x2="673.7" y2="256" stroke="#2a2a2a" stroke-width="1.3"/>
<line x1="673.2" y1="256" x2="673.2" y2="468.4" stroke="#9a9a9a" stroke-width="1.1"/>
<line x1="403.8" y1="256" x2="403.8" y2="468.4" stroke="#222" stroke-width="1.3"/>
<line x1="399" y1="468.4" x2="673.2" y2="468.4" stroke="#222" stroke-width="1.4"/>
<text x="437.5" y="484.9" font-size="12" font-weight="bold" text-anchor="middle" textLength="29.8" lengthAdjust="spacingAndGlyphs">PAHs</text>
<text x="504.9" y="484.9" font-size="12" font-weight="bold" text-anchor="middle" textLength="28" lengthAdjust="spacingAndGlyphs">PCBs</text>
<text x="572.2" y="484.9" font-size="12" font-weight="bold" text-anchor="middle" textLength="46" lengthAdjust="spacingAndGlyphs">Pesticide</text>
<text x="639.3" y="484.9" font-size="12" font-weight="bold" text-anchor="middle" textLength="29" lengthAdjust="spacingAndGlyphs">TPHs</text>
</svg>
</body></html>
